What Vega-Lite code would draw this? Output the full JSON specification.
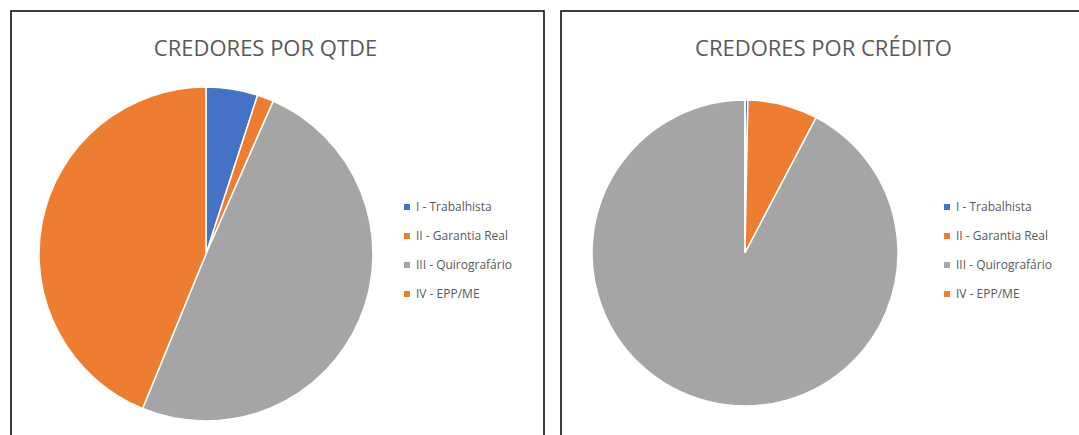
{
  "$schema": "https://vega.github.io/schema/vega-lite/v6.json",
  "padding": {"left": 10, "top": 10, "right": 0, "bottom": 0},
  "spacing": 15,
  "background": "white",
  "resolve": {"scale": {"color": "independent"}, "legend": {"color": "independent"}},
  "datasets": {
    "qtde": [
      {"classe": "I - Trabalhista", "valor": 5.0, "ord": 1},
      {"classe": "II - Garantia Real", "valor": 1.6, "ord": 2},
      {"classe": "III - Quirografário", "valor": 49.6, "ord": 3},
      {"classe": "IV - EPP/ME", "valor": 43.8, "ord": 4}
    ],
    "credito": [
      {"classe": "I - Trabalhista", "valor": 0.3, "ord": 1},
      {"classe": "II - Garantia Real", "valor": 7.4, "ord": 2},
      {"classe": "III - Quirografário", "valor": 92.3, "ord": 3},
      {"classe": "IV - EPP/ME", "valor": 0.0, "ord": 4}
    ]
  },
  "config": {
    "view": {"stroke": "#000000", "strokeWidth": 1.5},
    "title": {"font": "Open Sans", "fontSize": 22, "fontWeight": "normal", "color": "#595959", "anchor": "middle"},
    "legend": {
      "orient": "none",
      "labelFont": "Open Sans",
      "labelFontSize": 12,
      "labelColor": "#595959",
      "labelOffset": 3,
      "symbolType": "square",
      "symbolSize": 36,
      "symbolStrokeWidth": 0,
      "rowPadding": 17
    }
  },
  "hconcat": [
    {
      "width": 533,
      "height": 440,
      "title": {"text": "CREDORES POR QTDE", "offset": -50, "dx": -12},
      "data": {"name": "qtde"},
      "mark": {"type": "arc", "outerRadius": 167, "stroke": "white", "strokeWidth": 1.5},
      "encoding": {
        "theta": {"field": "valor", "type": "quantitative", "stack": true},
        "order": {"field": "ord", "type": "quantitative"},
        "color": {
          "field": "classe",
          "type": "nominal",
          "scale": {
            "domain": ["I - Trabalhista", "II - Garantia Real", "III - Quirografário", "IV - EPP/ME"],
            "range": ["#4472C4", "#ED7D31", "#A5A5A5", "#ED7D31"]
          },
          "legend": {"title": null, "legendX": 390, "legendY": 190}
        },
        "x": {"value": 195},
        "y": {"value": 243}
      }
    },
    {
      "width": 525,
      "height": 440,
      "title": {"text": "CREDORES POR CRÉDITO", "offset": -50},
      "data": {"name": "credito"},
      "mark": {"type": "arc", "outerRadius": 153, "stroke": "white", "strokeWidth": 1.5},
      "encoding": {
        "theta": {"field": "valor", "type": "quantitative", "stack": true},
        "order": {"field": "ord", "type": "quantitative"},
        "color": {
          "field": "classe",
          "type": "nominal",
          "scale": {
            "domain": ["I - Trabalhista", "II - Garantia Real", "III - Quirografário", "IV - EPP/ME"],
            "range": ["#4472C4", "#ED7D31", "#A5A5A5", "#ED7D31"]
          },
          "legend": {"title": null, "legendX": 380, "legendY": 190}
        },
        "x": {"value": 184},
        "y": {"value": 242}
      }
    }
  ]
}
